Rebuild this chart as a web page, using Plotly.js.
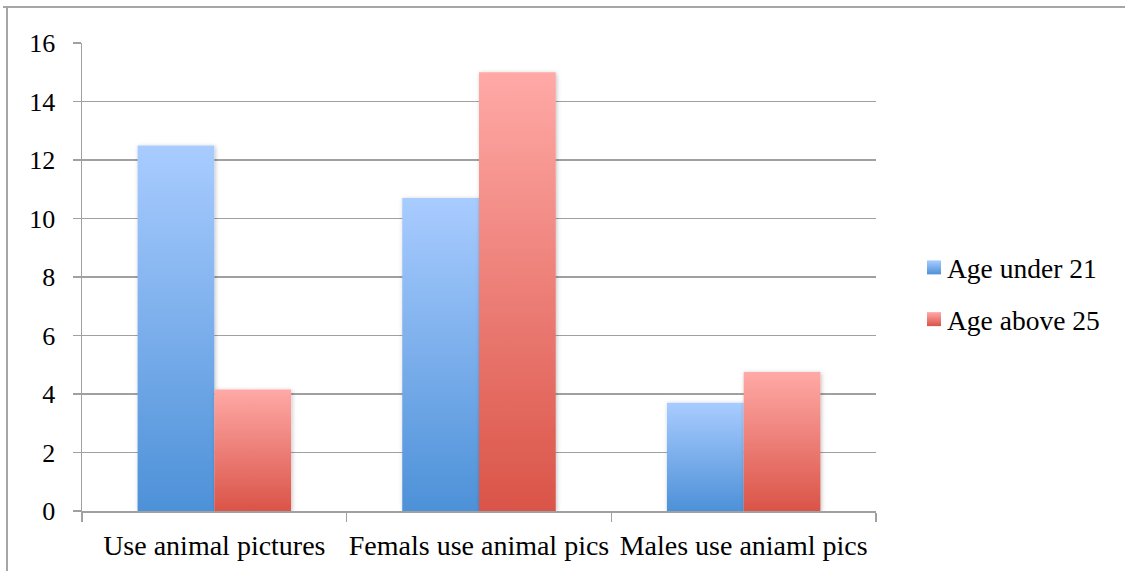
<!DOCTYPE html>
<html>
<head>
<meta charset="utf-8">
<script src="https://cdn.plot.ly/plotly-3.0.1.min.js"></script>
<style>
html,body{margin:0;padding:0;background:#fff;}
#chart{width:1125px;height:571px;}
</style>
</head>
<body>
<div id="chart"></div>
<script>
const categories = ["Use animal pictures", "Femals use animal pics", "Males use aniaml pics"];
const ageUnder21 = [12.5, 10.7, 3.7];
const ageAbove25 = [4.15, 15, 4.75];
const seriesNames = ["Age under 21", "Age above 25"];
const yTicks = [0, 2, 4, 6, 8, 10, 12, 14, 16];

const W = 1125, H = 571;
const M = {l: 82, r: 249, t: 43, b: 60};
const pw = W - M.l - M.r, ph = H - M.t - M.b;
const px = x => (x - M.l) / pw;
const py = y => 1 - (y - M.t) / ph;

const FONT = "Liberation Serif, DejaVu Serif, serif";

const traces = [
  {type: "bar", name: seriesNames[0], x: categories, y: ageUnder21, legendgroup: "a",
   marker: {color: "#7aaef0", line: {width: 0}}},
  {type: "bar", name: seriesNames[1], x: categories, y: ageAbove25, legendgroup: "b",
   marker: {color: "#f08a84", line: {width: 0}}}
];

const layout = {
  width: W, height: H,
  margin: M,
  paper_bgcolor: "#fff", plot_bgcolor: "#fff",
  barmode: "group", bargap: 0.42, bargroupgap: 0,
  font: {family: FONT, size: 26, color: "#000"},
  showlegend: true,
  legend: {x: px(907), y: py(243), xanchor: "left", yanchor: "top",
           font: {family: FONT, size: 27.5, color: "#000"}, tracegroupgap: 13,
           itemwidth: 30, bgcolor: "rgba(0,0,0,0)"},
  xaxis: {type: "category", showgrid: false, showline: true, linecolor: "#a0a0a0", linewidth: 1.5,
          ticks: "outside", tickson: "boundaries", ticklen: 9, tickcolor: "#a0a0a0", tickwidth: 1.5,
          ticklabelstandoff: 9, tickangle: 0,
          tickfont: {family: FONT, size: 28, color: "#000"}, fixedrange: true},
  yaxis: {range: [0, 16], tickvals: yTicks, ticktext: yTicks.map(String),
          showgrid: true, gridcolor: "#a0a0a0", gridwidth: 1.5,
          showline: true, linecolor: "#a0a0a0", linewidth: 1.5,
          ticks: "outside", ticklen: 8, tickcolor: "#a0a0a0", tickwidth: 1.5,
          ticklabelstandoff: 12,
          zeroline: false, tickfont: {family: FONT, size: 26, color: "#000"}, fixedrange: true},
  shapes: [
    {type: "line", xref: "paper", yref: "paper", x0: px(3), x1: px(1125), y0: py(7), y1: py(7),
     line: {color: "#a6a6a6", width: 2}},
    {type: "line", xref: "paper", yref: "paper", x0: px(7), x1: px(7), y0: py(7), y1: py(571),
     line: {color: "#a6a6a6", width: 2}}
  ]
};

Plotly.newPlot("chart", traces, layout, {displayModeBar: false, staticPlot: true}).then(applyGradients);

function applyGradients() {
  const svg = document.querySelector("#chart .main-svg");
  const ns = "http://www.w3.org/2000/svg";
  let defs = svg.querySelector("defs");
  if (!defs) { defs = document.createElementNS(ns, "defs"); svg.insertBefore(defs, svg.firstChild); }
  const grads = [["gBlue", "#a9ccff", "#4d91d8"], ["gRed", "#ffa9a6", "#da5448"]];
  grads.forEach(([id, c1, c2]) => {
    const g = document.createElementNS(ns, "linearGradient");
    g.setAttribute("id", id);
    g.setAttribute("x1", "0"); g.setAttribute("y1", "0");
    g.setAttribute("x2", "0"); g.setAttribute("y2", "1");
    [[0, c1], [1, c2]].forEach(([o, c]) => {
      const s = document.createElementNS(ns, "stop");
      s.setAttribute("offset", o); s.setAttribute("stop-color", c);
      g.appendChild(s);
    });
    defs.appendChild(g);
  });
  const f = document.createElementNS(ns, "filter");
  f.setAttribute("id", "barShadow");
  f.setAttribute("x", "-20%"); f.setAttribute("y", "-20%");
  f.setAttribute("width", "140%"); f.setAttribute("height", "140%");
  f.innerHTML = '<feDropShadow dx="1" dy="1" stdDeviation="2" flood-color="#000" flood-opacity="0.25"/>';
  defs.appendChild(f);

  const traceGroups = svg.querySelectorAll(".barlayer .trace");
  traceGroups.forEach((tg, i) => {
    tg.querySelectorAll("path").forEach(p => {
      p.style.fill = "url(#" + grads[i][0] + ")";
      p.setAttribute("filter", "url(#barShadow)");
    });
  });
  const legendItems = document.querySelectorAll("#chart .legend .traces");
  legendItems.forEach((li, i) => {
    li.querySelectorAll(".legendpoints path").forEach(p => {
      p.setAttribute("d", "M7,7H-7V-7H7Z");
      p.style.fill = "url(#" + grads[i][0] + ")";
      p.style.stroke = "none";
    });
    const lp = li.querySelector(".legendpoints");
    if (lp) lp.setAttribute("transform", "translate(7,0)");
  });
}
</script>
</body>
</html>
